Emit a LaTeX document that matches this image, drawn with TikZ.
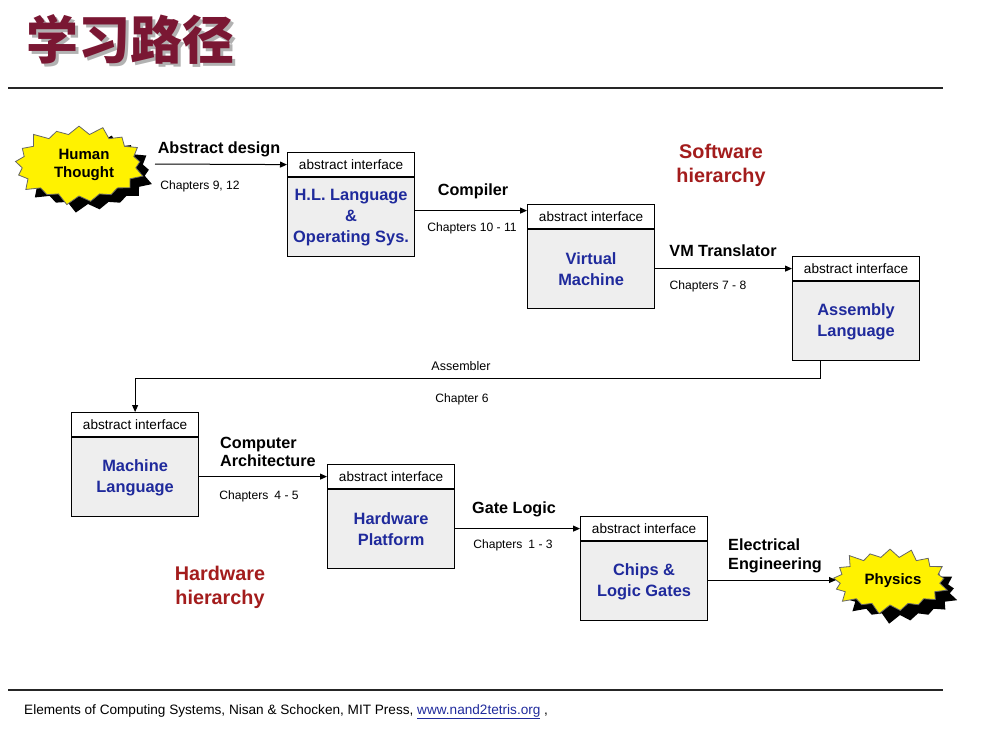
\documentclass[tikz,border=0pt]{standalone}
\usepackage{fontspec}
\setmainfont{Liberation Sans}
\newfontfamily\cjk{Noto Sans CJK SC}
\usetikzlibrary{arrows.meta,shapes.symbols,positioning}
\definecolor{titlered}{HTML}{7A1733}
\definecolor{hierred}{HTML}{A31C1C}
\definecolor{boxblue}{HTML}{1F2A9C}
\definecolor{boxgray}{HTML}{EEEEEE}
\definecolor{burst}{HTML}{FFF200}
\tikzset{
  hdr/.style={draw=black, line width=1.2pt, fill=white, minimum width=127pt,
    minimum height=24pt, inner sep=0pt, font=\fontsize{13.6}{15}\selectfont},
  bodybox/.style={draw=black, line width=1.2pt, fill=boxgray, minimum width=127pt,
    minimum height=79pt, inner sep=0pt, align=center, text=boxblue,
    font=\bfseries\fontsize{16.4}{21}\selectfont},
  arr/.style={line width=1pt, -{Triangle[length=7pt,width=6pt]}},
  flow/.style={font=\bfseries\fontsize{16.2}{18.5}\selectfont},
  chap/.style={font=\fontsize{12.1}{13}\selectfont},
  hier/.style={font=\bfseries\fontsize{19.8}{24}\selectfont, text=hierred, align=center},
  burstshape/.style={starburst, starburst points=17, starburst point height=11pt,
    inner sep=0pt, line width=0.8pt},
  bursttext/.style={font=\bfseries\fontsize{15}{17.5}\selectfont, align=center}
}
% title text with a grey drop shadow behind it
\newcommand{\shadowtitle}[1]{%
  \makebox[0pt][l]{\hspace{3pt}\raisebox{-3pt}{\textcolor{black!30}{#1}}}%
  \textcolor{titlered}{#1}}
\begin{document}
\begin{tikzpicture}[x=1pt,y=-1pt]
\useasboundingbox (0,0) rectangle (1006,733);

% title
\node[anchor=base west, inner sep=0pt,
  font=\cjk\bfseries\fontsize{52}{60}\selectfont] (title) at (26,60) {\shadowtitle{学习路径}};
\draw[line width=2pt, black!85] (8,88) coordinate (rulea) -- (943,88) coordinate (ruleb);

% starburst: Human Thought
\node[burstshape, fill=black, minimum width=136pt, minimum height=84pt]
  (htshadow) at (88,173) {};
\node[burstshape, fill=burst, draw=black!60, minimum width=136pt,
  minimum height=84pt] (htburst) at (79,165) {};
\node[bursttext] (ht) at (84,165) {Human\\Thought};

% boxes: header strip + body
\node[hdr, anchor=north west] (b1h) at (287,152) {abstract interface};
\node[bodybox, anchor=north] (b1) at (b1h.south) {H.L. Language\\\&\\Operating Sys.};

\node[hdr, anchor=north west] (b2h) at (527,204) {abstract interface};
\node[bodybox, anchor=north] (b2) at (b2h.south) {Virtual\\Machine};

\node[hdr, anchor=north west] (b3h) at (792,256) {abstract interface};
\node[bodybox, anchor=north] (b3) at (b3h.south) {Assembly\\Language};

\node[hdr, anchor=north west] (b4h) at (71,412) {abstract interface};
\node[bodybox, anchor=north] (b4) at (b4h.south) {Machine\\Language};

\node[hdr, anchor=north west] (b5h) at (327,464) {abstract interface};
\node[bodybox, anchor=north] (b5) at (b5h.south) {Hardware\\Platform};

\node[hdr, anchor=north west] (b6h) at (580,516) {abstract interface};
\node[bodybox, anchor=north] (b6) at (b6h.south) {Chips \&\\Logic Gates};

% starburst: Physics
\node[burstshape, fill=black, minimum width=122pt, minimum height=70pt]
  (phshadow) at (900,591) {};
\node[burstshape, fill=burst, draw=black!60, minimum width=122pt,
  minimum height=70pt] (phburst) at (890,581) {};
\node[bursttext] (ph) at (893,581) {Physics};

% connectors
\coordinate (htout) at (155,164);
\draw[arr] (htout) -- (b1h.west);
\draw[arr] ([yshift=6pt]b1.east |- b2h.west) -- ([yshift=6pt]b2h.west);
\draw[arr] (b2.east |- b3h.west) -- (b3h.west);
\coordinate (asmturn) at (820,378);
\draw[arr] ([xshift=28pt]b3.south west) -- (asmturn) -| (b4h.north);
\draw[arr] (b4.east |- b5h.west) -- (b5h.west);
\draw[arr] (b5.east |- b6h.west) -- (b6h.west);
\coordinate (phin) at (836,580);
\draw[arr] (b6.east |- phin) -- (phin);

% connector labels
\node[flow] (l1) at (219,149) {Abstract design};
\node[chap] (c1) at (200,186) {Chapters 9, 12};
\node[flow] (l2) at (473,191) {Compiler};
\node[chap] (c2) at (472,228) {Chapters 10 - 11};
\node[flow] (l3) at (723,251) {VM Translator};
\node[chap] (c3) at (708,286) {Chapters 7 - 8};
\node[chap, font=\fontsize{12.5}{13}\selectfont] (l4) at (461,366) {Assembler};
\node[chap] (c4) at (462,399) {Chapter 6};
\node[flow, anchor=west, align=left, inner sep=0pt] (l5) at (220,452) {Computer\\Architecture};
\node[chap] (c5) at (259,496) {Chapters\enspace4 - 5};
\node[flow] (l6) at (514,509) {Gate Logic};
\node[chap] (c6) at (513,545) {Chapters\enspace1 - 3};
\node[flow, anchor=west, align=left, inner sep=0pt] (l7) at (728,556) {Electrical\\Engineering};

% hierarchy captions
\node[hier] (sw) at (721,165) {Software\\hierarchy};
\node[hier] (hw) at (220,587) {Hardware\\hierarchy};

% footer
\draw[line width=1.4pt, black!85] (8,690) coordinate (rulec) -- (943,690) coordinate (ruled);
\node[anchor=base west, inner sep=0pt, font=\fontsize{13.6}{15}\selectfont] (foot) at (24,714)
  {Elements of Computing Systems, Nisan \& Schocken, MIT Press, \textcolor{boxblue}{\underline{www.nand2tetris.org}} ,};
\end{tikzpicture}
\end{document}
